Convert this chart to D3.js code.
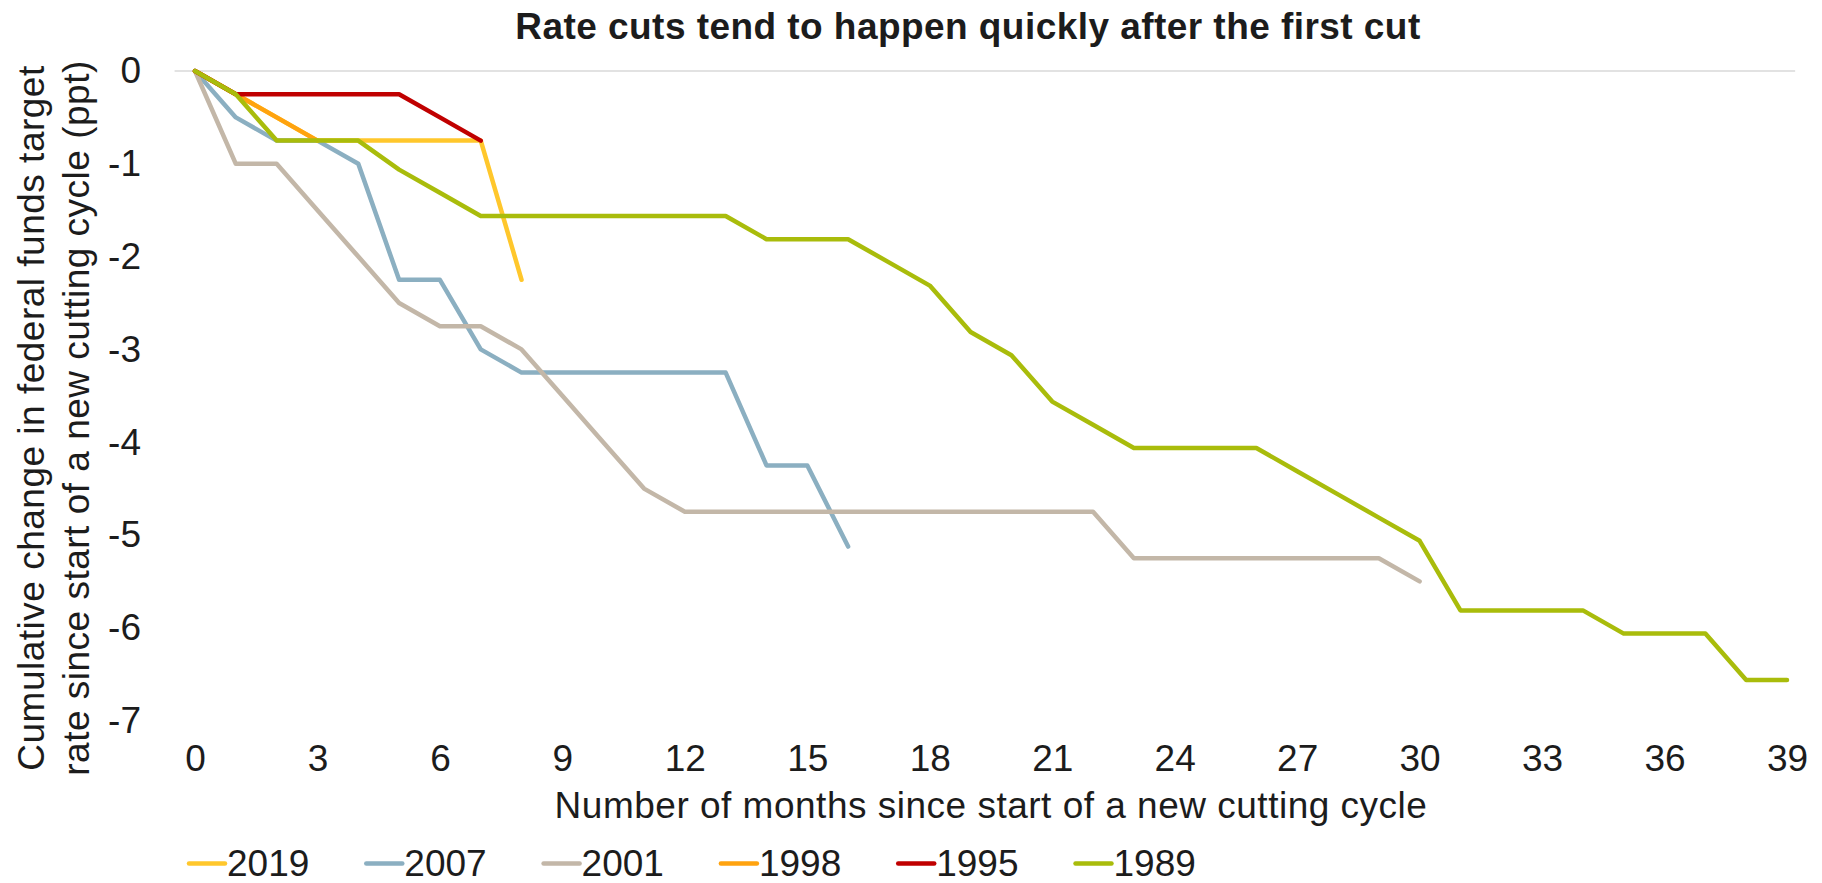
<!DOCTYPE html>
<html>
<head>
<meta charset="utf-8">
<script src="https://cdn.jsdelivr.net/npm/d3@7"></script>
<style>
  html, body { margin: 0; padding: 0; background: #ffffff; }
  svg { display: block; font-family: "Liberation Sans", Arial, sans-serif; }
</style>
</head>
<body>
<svg id="chart" width="1822" height="883"></svg>
<script>
// Cumulative change in the fed funds target (ppt), one value per month since the first cut
const months2019 = [0, -0.25, -0.5, -0.75, -0.75, -0.75, -0.75, -0.75, -2.25];
const months2007 = [0, -0.5, -0.75, -0.75, -1.0, -2.25, -2.25, -3.0, -3.25, -3.25, -3.25, -3.25, -3.25, -3.25, -4.25, -4.25, -5.125];
const months2001 = [0, -1, -1, -1.5, -2, -2.5, -2.75, -2.75, -3, -3.5, -4, -4.5, -4.75,
  -4.75, -4.75, -4.75, -4.75, -4.75, -4.75, -4.75, -4.75, -4.75, -4.75,
  -5.25, -5.25, -5.25, -5.25, -5.25, -5.25, -5.25, -5.5];
const months1998 = [0, -0.25, -0.5, -0.75];
const months1995 = [0, -0.25, -0.25, -0.25, -0.25, -0.25, -0.5, -0.75];
const months1989 = [0, -0.25, -0.75, -0.75, -0.75, -1.0625, -1.3125, -1.5625, -1.5625, -1.5625,
  -1.5625, -1.5625, -1.5625, -1.5625, -1.8125, -1.8125, -1.8125, -2.0625, -2.3125, -2.8125,
  -3.0625, -3.5625, -3.8125, -4.0625, -4.0625, -4.0625, -4.0625, -4.3125, -4.5625, -4.8125,
  -5.0625, -5.8125, -5.8125, -5.8125, -5.8125, -6.0625, -6.0625, -6.0625, -6.5625, -6.5625];

const seriesNames = ["2019", "2007", "2001", "1998", "1995", "1989"];
const seriesValues = [months2019, months2007, months2001, months1998, months1995, months1989];
const seriesColors = ["#FFC72C", "#8BAFC1", "#C3B7A8", "#FFA30F", "#C00000", "#A9BC0B"];

const xTicks = [0, 3, 6, 9, 12, 15, 18, 21, 24, 27, 30, 33, 36, 39];
const yTicks = [0, -1, -2, -3, -4, -5, -6, -7];

const titleText = "Rate cuts tend to happen quickly after the first cut";
const xTitle = "Number of months since start of a new cutting cycle";
const yTitleLines = ["Cumulative change in federal funds target", "rate since start of a new cutting cycle (ppt)"];

const svg = d3.select("#chart");
const textColor = "#1c1c1c";
const fontSize = 37;
const spacing = "0.5px";

const x = d3.scaleLinear().domain([0, 39]).range([195, 1787]);
const y = d3.scaleLinear().domain([-7, 0]).range([720.6, 71]);

// Title
svg.append("text")
  .attr("x", 968).attr("y", 39)
  .attr("text-anchor", "middle")
  .attr("font-size", 37).attr("font-weight", "bold")
  .attr("letter-spacing", "0.45px")
  .attr("fill", textColor)
  .text(titleText);

// Zero line across the plot
svg.append("line")
  .attr("x1", x(-0.5)).attr("x2", x(39.2))
  .attr("y1", y(0)).attr("y2", y(0))
  .attr("stroke", "#D9D9D9").attr("stroke-width", 1.3);

// Y axis labels
const yAxis = d3.axisLeft(y).tickValues(yTicks).tickSize(0).tickPadding(0)
  .tickFormat(d => String(d));
const gy = svg.append("g").attr("transform", "translate(141,0)").call(yAxis);
gy.select(".domain").remove();
gy.selectAll("text").attr("font-size", fontSize).attr("fill", textColor)
  .attr("font-family", "Liberation Sans, Arial, sans-serif");

// X axis labels
const xAxis = d3.axisBottom(x).tickValues(xTicks).tickSize(0).tickPadding(0)
  .tickFormat(d => String(d));
const gx = svg.append("g").attr("transform", "translate(0,744)").call(xAxis);
gx.select(".domain").remove();
gx.selectAll("text").attr("font-size", fontSize).attr("fill", textColor)
  .attr("font-family", "Liberation Sans, Arial, sans-serif")
  .attr("dy", "0.72em");

// Axis titles
svg.append("text")
  .attr("x", 991).attr("y", 818)
  .attr("text-anchor", "middle")
  .attr("font-size", fontSize).attr("letter-spacing", spacing).attr("fill", textColor)
  .text(xTitle);

const yTitle = svg.append("text")
  .attr("transform", "translate(0,418) rotate(-90)")
  .attr("text-anchor", "middle")
  .attr("font-size", fontSize).attr("letter-spacing", spacing).attr("fill", textColor);
yTitleLines.forEach((t, i) => {
  yTitle.append("tspan").attr("x", 0).attr("y", 44 + i * 45).text(t);
});

// Series lines
const line = d3.line().x((d, i) => x(i)).y(d => y(d));
svg.append("g").selectAll("path")
  .data(seriesValues)
  .join("path")
  .attr("d", d => line(d))
  .attr("fill", "none")
  .attr("stroke", (d, i) => seriesColors[i])
  .attr("stroke-width", 4.5)
  .attr("stroke-linejoin", "round")
  .attr("stroke-linecap", "round");

// Legend
const legend = svg.append("g");
const item = legend.selectAll("g")
  .data(seriesNames)
  .join("g")
  .attr("transform", (d, i) => `translate(${187 + i * 177.3},0)`);
item.append("line")
  .attr("x1", 2).attr("x2", 38)
  .attr("y1", 863.5).attr("y2", 863.5)
  .attr("stroke", (d, i) => seriesColors[i])
  .attr("stroke-width", 4.5)
  .attr("stroke-linecap", "round");
item.append("text")
  .attr("x", 40).attr("y", 875.5)
  .attr("font-size", fontSize).attr("fill", textColor)
  .text(d => d);
</script>
</body>
</html>
